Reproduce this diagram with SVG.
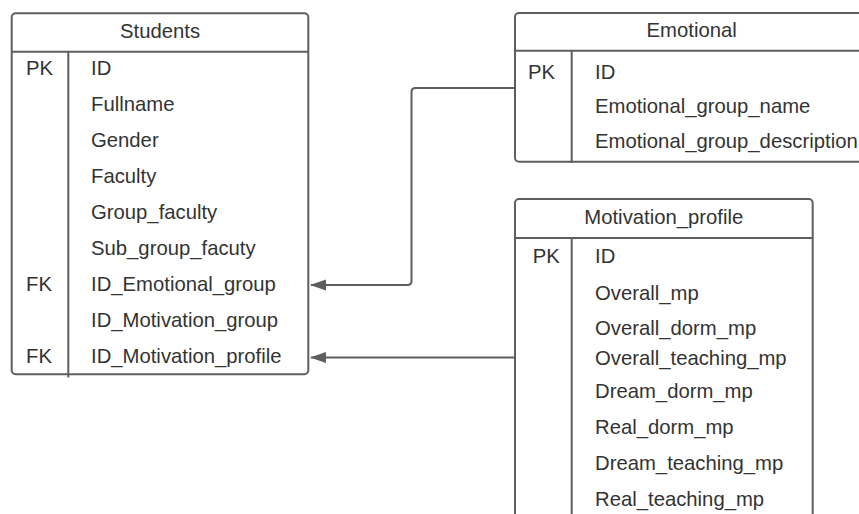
<svg xmlns="http://www.w3.org/2000/svg" width="859" height="514" viewBox="0 0 859 514">
<style>
.box{fill:#ffffff;stroke:#5e5e5e;stroke-width:2}
.ln{stroke:#5e5e5e;stroke-width:2;fill:none}
.t{font-family:"Liberation Sans",Arial,sans-serif;font-size:20.3px;fill:#333333}
.c{text-anchor:middle}
</style>
<defs>
<marker id="arr" markerWidth="16" markerHeight="12" refX="15" refY="6" orient="auto" markerUnits="userSpaceOnUse">
<path d="M0,0.5 L16,6 L0,11.5 Z" fill="#5e5e5e"/>
</marker>
</defs>
<rect width="859" height="514" fill="#ffffff"/>
<g id="connectors">
<path class="ln" d="M515,88 H415.5 Q411.5,88 411.5,92 V281 Q411.5,285 407.5,285 H311" marker-end="url(#arr)"/>
<path class="ln" d="M515,357.5 H311" marker-end="url(#arr)"/>
</g>
<g id="students">
<rect class="box" x="11.7" y="13.3" width="296.6" height="361" rx="4"/>
<line class="ln" x1="11.7" y1="51.7" x2="308.3" y2="51.7"/>
<line class="ln" x1="68.3" y1="51.7" x2="68.3" y2="377.5"/>
<text class="t c" x="160" y="37.5">Students</text>
<text class="t" x="26" y="75">PK</text>
<text class="t" x="91" y="75">ID</text>
<text class="t" x="91" y="111">Fullname</text>
<text class="t" x="91" y="147">Gender</text>
<text class="t" x="91" y="183">Faculty</text>
<text class="t" x="91" y="219">Group_faculty</text>
<text class="t" x="91" y="255">Sub_group_facuty</text>
<text class="t" x="26" y="291">FK</text>
<text class="t" x="91" y="291">ID_Emotional_group</text>
<text class="t" x="91" y="327">ID_Motivation_group</text>
<text class="t" x="26" y="362.5">FK</text>
<text class="t" x="91" y="362.5">ID_Motivation_profile</text>
</g>
<g id="emotional">
<rect class="box" x="515" y="13" width="353" height="148.7" rx="4"/>
<line class="ln" x1="515" y1="50.7" x2="868" y2="50.7"/>
<line class="ln" x1="571.7" y1="50.7" x2="571.7" y2="163"/>
<text class="t c" x="691.7" y="37">Emotional</text>
<text class="t" x="528" y="78.5">PK</text>
<text class="t" x="595" y="78.5">ID</text>
<text class="t" x="595" y="113">Emotional_group_name</text>
<text class="t" x="595" y="147.5">Emotional_group_description</text>
</g>
<g id="motivation_profile">
<rect class="box" x="515" y="199" width="297.7" height="340" rx="4"/>
<line class="ln" x1="515" y1="238" x2="812.7" y2="238"/>
<line class="ln" x1="571.7" y1="238" x2="571.7" y2="540"/>
<text class="t c" x="663.8" y="223.5">Motivation_profile</text>
<text class="t" x="532.7" y="263">PK</text>
<text class="t" x="595" y="263">ID</text>
<text class="t" x="595" y="299.5">Overall_mp</text>
<text class="t" x="595" y="335">Overall_dorm_mp</text>
<text class="t" x="595" y="365">Overall_teaching_mp</text>
<text class="t" x="595" y="398">Dream_dorm_mp</text>
<text class="t" x="595" y="434">Real_dorm_mp</text>
<text class="t" x="595" y="470">Dream_teaching_mp</text>
<text class="t" x="595" y="506">Real_teaching_mp</text>
</g>
</svg>
